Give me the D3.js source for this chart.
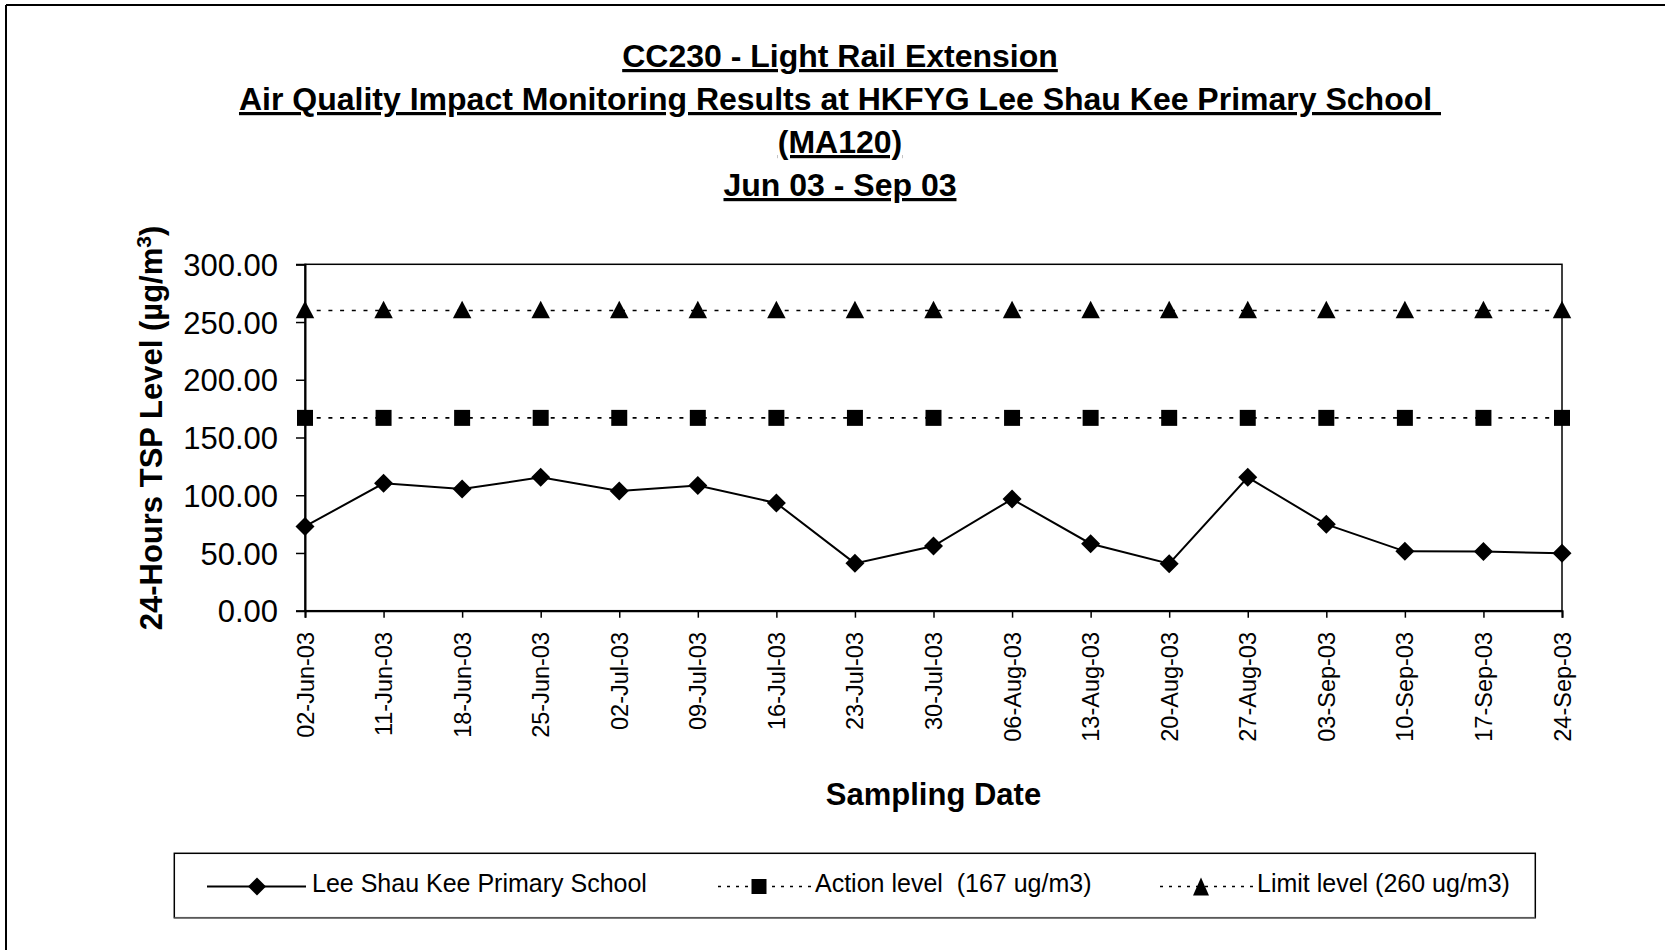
<!DOCTYPE html>
<html>
<head>
<meta charset="utf-8">
<script src="https://cdn.jsdelivr.net/npm/d3@7"></script>
<style>
  html, body { margin: 0; padding: 0; background: #fff; }
  svg { display: block; }
  text { font-family: "Liberation Sans", Arial, sans-serif; fill: #000; }
</style>
</head>
<body>
<svg id="chart" width="1665" height="950"></svg>
<script>
// ---- data ----
const categories = ["02-Jun-03","11-Jun-03","18-Jun-03","25-Jun-03","02-Jul-03","09-Jul-03","16-Jul-03","23-Jul-03","30-Jul-03","06-Aug-03","13-Aug-03","20-Aug-03","27-Aug-03","03-Sep-03","10-Sep-03","17-Sep-03","24-Sep-03"];
const schoolValues = [73.0,110.3,105.4,115.5,103.6,108.5,93.2,41.0,56.0,96.7,58.0,40.7,115.5,74.8,51.4,51.2,49.7];
const actionLevel = categories.map(() => 167);
const limitLevel = categories.map(() => 260);
const yTicks = [0,50,100,150,200,250,300];
const titleLines = ["CC230 - Light Rail Extension","Air Quality Impact Monitoring Results at HKFYG Lee Shau Kee Primary School ","(MA120)","Jun 03 - Sep 03"];
const legendLabels = ["Lee Shau Kee Primary School","Action level  (167 ug/m3)","Limit level (260 ug/m3)"];

// ---- layout ----
const svg = d3.select("#chart");
const plot = {left: 305, right: 1562, top: 264.3, bottom: 610.7};

const x = d3.scalePoint().domain(categories).range([plot.left, plot.right]);
const y = d3.scaleLinear().domain([0,300]).range([plot.bottom, plot.top]);

// outer chart border (top & left visible)
svg.append("line").attr("x1",6).attr("x2",1665).attr("y1",5).attr("y2",5).attr("stroke","#000").attr("stroke-width",2);
svg.append("line").attr("x1",6).attr("x2",6).attr("y1",5).attr("y2",950).attr("stroke","#000").attr("stroke-width",2);

// title
const titleBaselines = [67,110,153,196];
titleLines.forEach((t,i) => {
  svg.append("text")
    .attr("x", 840).attr("y", titleBaselines[i])
    .attr("text-anchor","middle")
    .style("font-size","32px").style("font-weight","bold")
    .style("text-decoration","underline")
    .style("white-space","pre")
    .text(t);
});

// plot frame
svg.append("rect").attr("x",plot.left).attr("y",plot.top)
  .attr("width",plot.right-plot.left).attr("height",plot.bottom-plot.top)
  .attr("fill","none").attr("stroke","#000").attr("stroke-width",1.5);

// y axis
const yAxis = d3.axisLeft(y).tickValues(yTicks).tickSize(9).tickPadding(18).tickFormat(d3.format(".2f"));
const gy = svg.append("g").attr("transform",`translate(${plot.left},0)`).call(yAxis);
gy.select(".domain").attr("stroke","#000").attr("stroke-width",2);
gy.selectAll(".tick line").attr("stroke","#000").attr("stroke-width",1.5);
gy.selectAll(".tick text").style("font-size","31px").attr("dy","0.36em").attr("fill","#000");

// x axis
const xAxis = d3.axisBottom(x).tickSize(7).tickFormat("");
const gx = svg.append("g").attr("transform",`translate(0,${plot.bottom})`).call(xAxis);
gx.select(".domain").attr("stroke","#000").attr("stroke-width",2);
gx.selectAll(".tick line").attr("stroke","#000").attr("stroke-width",1.5);
svg.append("g").selectAll("text").data(categories).join("text")
  .attr("transform", d => `translate(${x(d)+8.5},632) rotate(-90)`)
  .attr("text-anchor","end")
  .style("font-size","23.5px")
  .text(d => d);

// axis titles
svg.append("text").attr("x",933.5).attr("y",805).attr("text-anchor","middle")
  .style("font-size","31px").style("font-weight","bold").text("Sampling Date");
const yt = svg.append("text").attr("transform","translate(162,428) rotate(-90)")
  .attr("text-anchor","middle").style("font-size","31px").style("font-weight","bold");
yt.append("tspan").text("24-Hours TSP Level (µg/m");
yt.append("tspan").attr("baseline-shift","super").style("font-size","21px").text("3");
yt.append("tspan").text(")");

// marker shapes
function diamondPath(cx, cy, r) { return `M${cx},${cy-r}L${cx+r},${cy}L${cx},${cy+r}L${cx-r},${cy}Z`; }
function squarePath(cx, cy, s) { return `M${cx-s/2},${cy-s/2}h${s}v${s}h${-s}Z`; }
function trianglePath(cx, cy, w, h) { return `M${cx},${cy-h*0.55}L${cx+w/2},${cy+h*0.45}L${cx-w/2},${cy+h*0.45}Z`; }

const lineGen = d3.line().x((d,i) => x(categories[i])).y(d => y(d));

// limit level
svg.append("path").attr("d", lineGen(limitLevel)).attr("fill","none")
  .attr("stroke","#000").attr("stroke-width",1.6).attr("stroke-dasharray","4,7.7");
svg.append("g").selectAll("path").data(limitLevel).join("path")
  .attr("d",(d,i) => trianglePath(x(categories[i]), y(d), 18.5, 17.5)).attr("fill","#000");

// action level
svg.append("path").attr("d", lineGen(actionLevel)).attr("fill","none")
  .attr("stroke","#000").attr("stroke-width",1.6).attr("stroke-dasharray","4,7.7");
svg.append("g").selectAll("path").data(actionLevel).join("path")
  .attr("d",(d,i) => squarePath(x(categories[i]), y(d), 16)).attr("fill","#000");

// school series
svg.append("path").attr("d", lineGen(schoolValues)).attr("fill","none")
  .attr("stroke","#000").attr("stroke-width",2);
svg.append("g").selectAll("path").data(schoolValues).join("path")
  .attr("d",(d,i) => diamondPath(x(categories[i]), y(d), 9.5)).attr("fill","#000");

// legend
const lg = svg.append("g");
lg.append("rect").attr("x",174.3).attr("y",853.3).attr("width",1361).attr("height",64.4)
  .attr("fill","#fff").attr("stroke","#000").attr("stroke-width",1.5);
lg.append("line").attr("x1",174.3).attr("x2",1535.3).attr("y1",918).attr("y2",918)
  .attr("stroke","#777").attr("stroke-width",1.5);
const ly = 886.5;
const legendItems = [
  {x1:207, x2:306, cx:257, tx:312, dash:null, marker:(cx)=>diamondPath(cx,ly,9)},
  {x1:718, x2:813, cx:759, tx:815, dash:"3,6", marker:(cx)=>squarePath(cx,ly,15)},
  {x1:1160, x2:1254, cx:1201, tx:1257, dash:"3,6", marker:(cx)=>trianglePath(cx,ly+1,16,18)}
];
legendItems.forEach((it,i) => {
  const l = lg.append("line").attr("x1",it.x1).attr("x2",it.x2).attr("y1",ly).attr("y2",ly)
    .attr("stroke","#000").attr("stroke-width", it.dash ? 1.5 : 2);
  if (it.dash) l.attr("stroke-dasharray", it.dash);
  lg.append("path").attr("d", it.marker(it.cx)).attr("fill","#000");
  lg.append("text").attr("x",it.tx).attr("y",892).style("font-size","25px")
    .style("white-space","pre").text(legendLabels[i]);
});
</script>
</body>
</html>
